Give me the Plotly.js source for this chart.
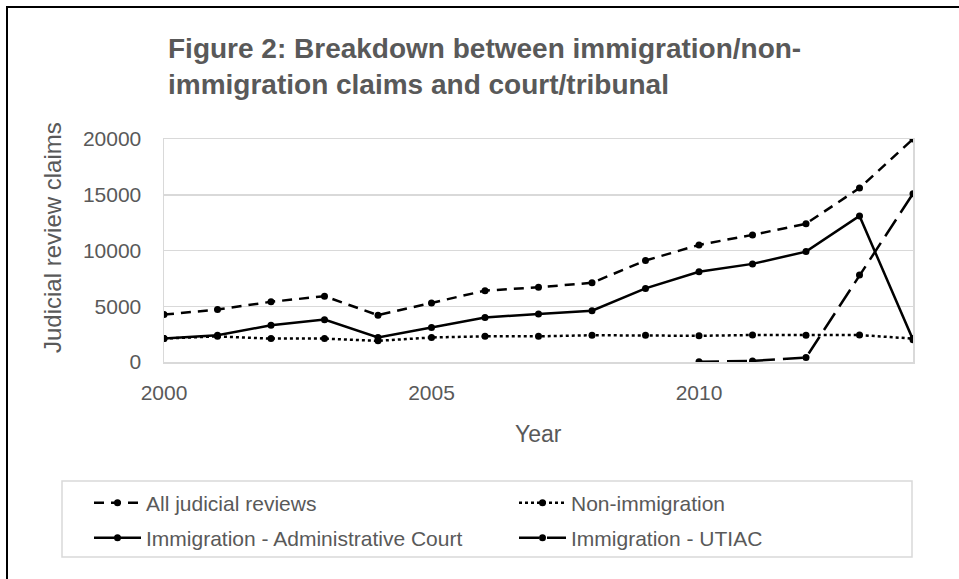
<!DOCTYPE html>
<html>
<head>
<meta charset="utf-8">
<script src="https://cdn.plot.ly/plotly-3.0.1.min.js"></script>
<style>
  html, body { margin: 0; padding: 0; background: #ffffff; }
  #chart { width: 959px; height: 579px; }
  #frame { position: absolute; left: 6px; top: 6px; width: 1000px; height: 600px;
           border-top: 2px solid #000; border-left: 2px solid #000; pointer-events: none; }
</style>
</head>
<body>
<div id="chart"></div>
<div id="frame"></div>
<script>
const years = [2000, 2001, 2002, 2003, 2004, 2005, 2006, 2007, 2008, 2009, 2010, 2011, 2012, 2013, 2014];
const allJudicialReviews = [4250, 4700, 5400, 5900, 4200, 5300, 6400, 6700, 7100, 9100, 10500, 11400, 12400, 15600, 20000];
const nonImmigration = [2100, 2300, 2100, 2100, 1900, 2200, 2300, 2300, 2400, 2400, 2350, 2420, 2400, 2420, 2100];
const immigrationAdminCourt = [2100, 2400, 3300, 3800, 2200, 3100, 4000, 4300, 4600, 6600, 8100, 8800, 9900, 13100, 2000];
const immigrationUTIAC = [null, null, null, null, null, null, null, null, null, null, 20, 100, 400, 7800, 15100];
const seriesNames = ["All judicial reviews", "Non-immigration", "Immigration - Administrative Court", "Immigration - UTIAC"];

const txt = "#595959";
const fnt = "Liberation Sans, Arial, sans-serif";
const mk = { color: "#000000", size: 7 };

const traces = [
  { x: years, y: allJudicialReviews, name: seriesNames[0], type: "scatter", mode: "lines+markers",
    line: { color: "#000", width: 2.5, dash: "10px,7px" }, marker: mk, legend: "legend" },
  { x: years, y: nonImmigration, name: seriesNames[1], type: "scatter", mode: "lines+markers",
    line: { color: "#000", width: 2.5, dash: "dot" }, marker: mk, legend: "legend" },
  { x: years, y: immigrationAdminCourt, name: seriesNames[2], type: "scatter", mode: "lines+markers",
    line: { color: "#000", width: 2.5 }, marker: mk, legend: "legend2" },
  { x: years, y: immigrationUTIAC, name: seriesNames[3], type: "scatter", mode: "lines+markers",
    line: { color: "#000", width: 2.5, dash: "20px,8px" }, marker: mk, legend: "legend2" }
];

const legBase = {
  orientation: "h", xanchor: "left", yanchor: "middle",
  font: { family: fnt, size: 21, color: txt },
  bgcolor: "rgba(0,0,0,0)", borderwidth: 0,
  entrywidth: 363, entrywidthmode: "pixels", itemwidth: 47
};

const layout = {
  width: 959, height: 579,
  margin: { l: 164, r: 46, t: 139, b: 217, pad: 0 },
  paper_bgcolor: "#ffffff", plot_bgcolor: "#ffffff",
  font: { family: fnt, color: txt },
  title: {
    text: "<b>Figure 2: Breakdown between immigration/non-<br>immigration claims and court/tribunal</b>",
    font: { family: fnt, size: 28, color: txt },
    xref: "container", x: 168 / 959, xanchor: "left",
    yref: "container", y: 1 - 58 / 579, yanchor: "top"
  },
  xaxis: {
    range: [2000, 2014], tickvals: [2000, 2005, 2010], ticktext: ["2000", "2005", "2010"],
    showgrid: false, zeroline: false, showline: true, mirror: true, linecolor: "#d9d9d9", linewidth: 1.5,
    ticks: "", ticklabelstandoff: 11,
    tickfont: { family: fnt, size: 21, color: txt }
  },
  yaxis: {
    range: [0, 20000], dtick: 5000, tickformat: "d",
    showgrid: true, gridcolor: "#d9d9d9", gridwidth: 1.5, zeroline: false,
    showline: true, mirror: true, linecolor: "#d9d9d9", linewidth: 1.5,
    ticks: "", ticklabelstandoff: 17,
    tickfont: { family: fnt, size: 21, color: txt }
  },
  annotations: [
    { text: "Judicial review claims", xref: "paper", yref: "paper",
      x: (52 - 164) / 749, y: (362 - 238) / 223, textangle: -90, showarrow: false,
      xanchor: "center", yanchor: "middle", font: { family: fnt, size: 24, color: txt } },
    { text: "Year", xref: "paper", yref: "paper",
      x: (538 - 164) / 749, y: (362 - 434) / 223, showarrow: false,
      xanchor: "center", yanchor: "middle", font: { family: fnt, size: 23, color: txt } }
  ],
  shapes: [
    { type: "rect", xref: "paper", yref: "paper",
      x0: (62 - 164) / 749, x1: (912 - 164) / 749, y0: (362 - 557) / 223, y1: (362 - 481) / 223,
      line: { color: "#d9d9d9", width: 1.5 }, fillcolor: "rgba(0,0,0,0)" }
  ],
  legend: Object.assign({}, legBase, { x: (89 - 164) / 749, y: (362 - 503) / 223 }),
  legend2: Object.assign({}, legBase, { x: (89 - 164) / 749, y: (362 - 538) / 223 }),
  showlegend: true
};

Plotly.newPlot("chart", traces, layout, { displayModeBar: false, staticPlot: true });
</script>
</body>
</html>
